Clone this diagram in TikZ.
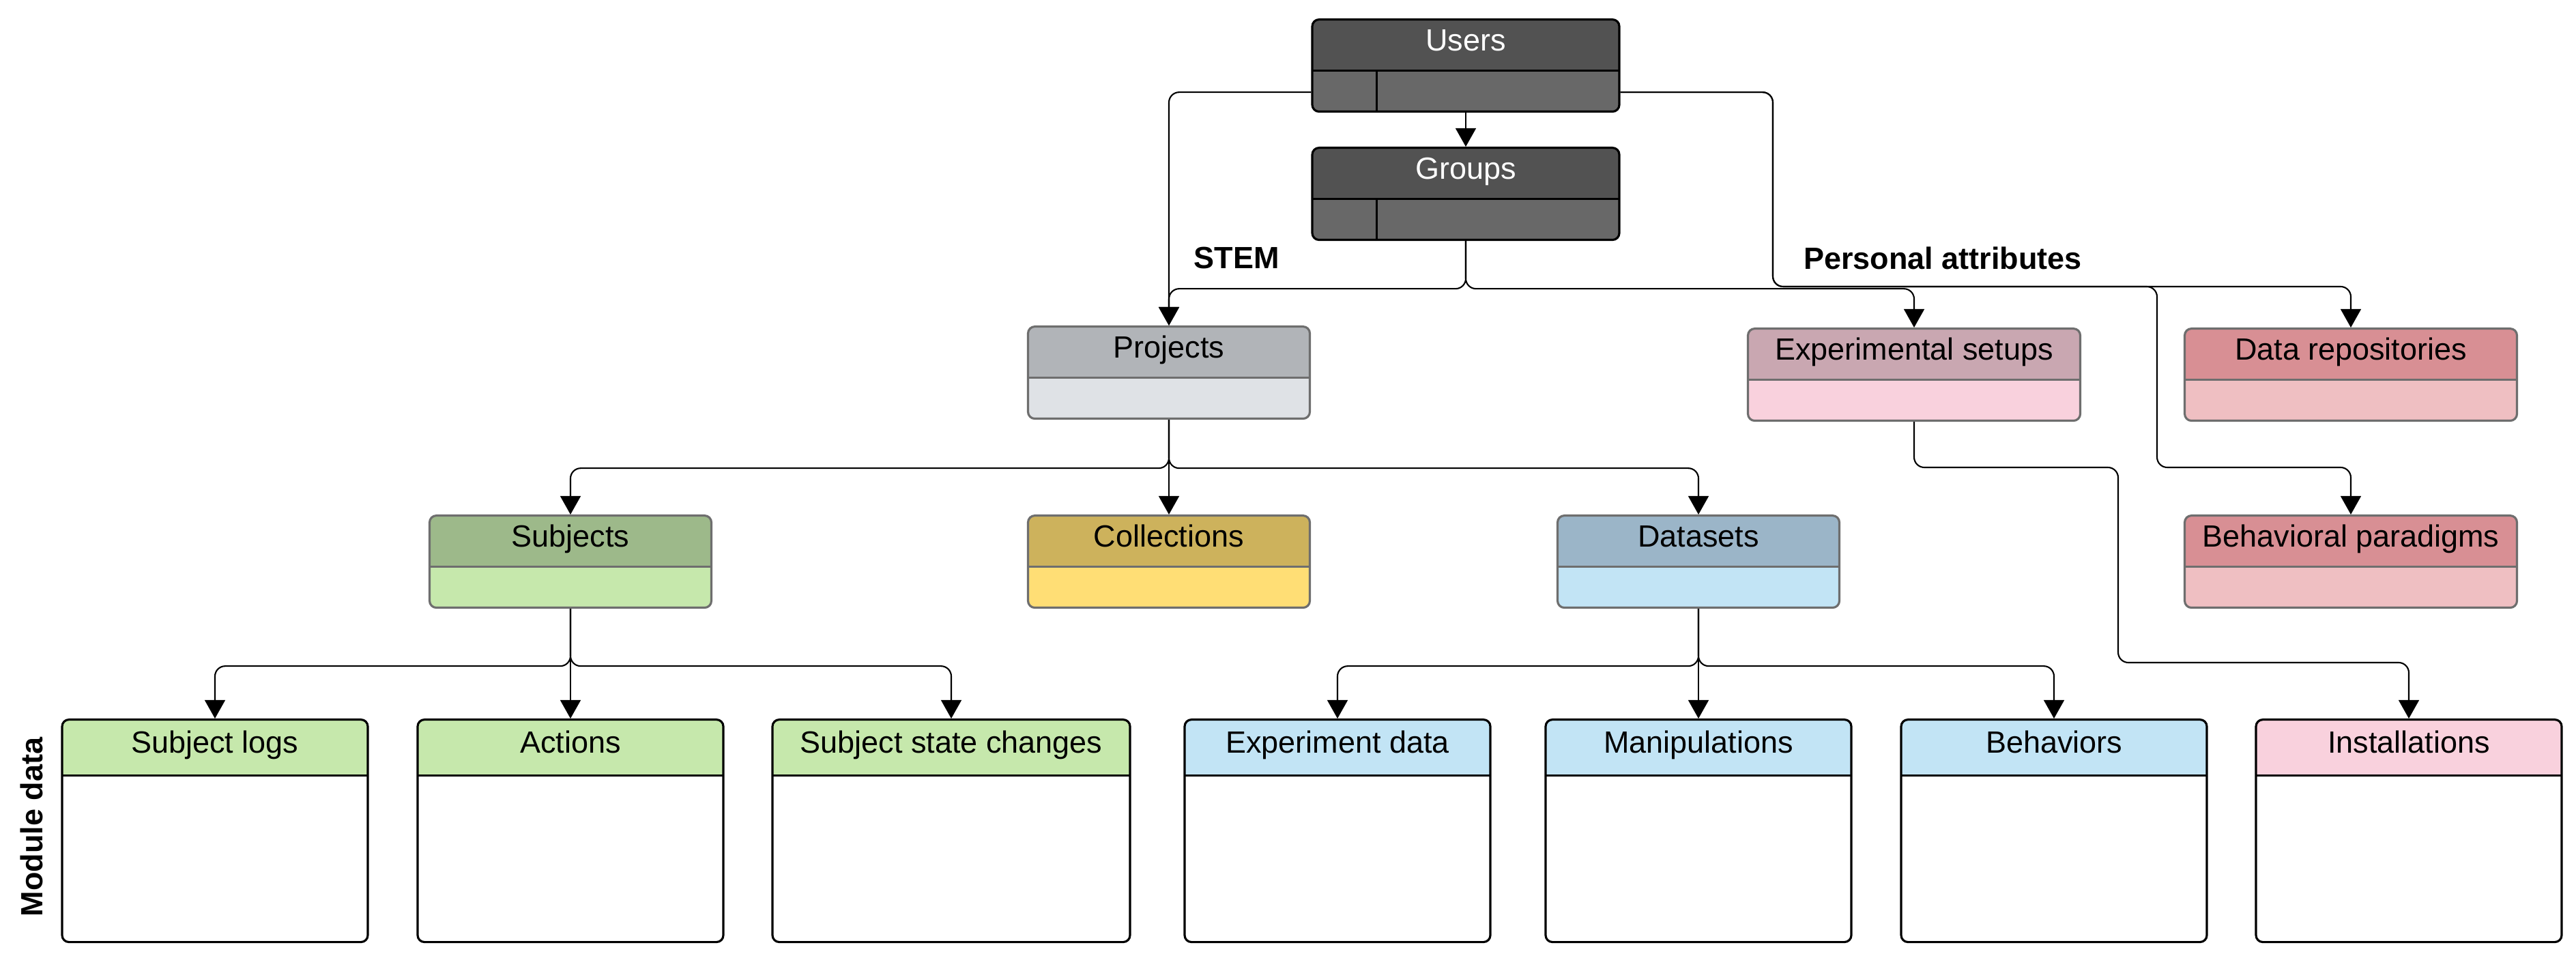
\documentclass[tikz,border=0pt]{standalone}
\usepackage{fontspec}
\setmainfont{Liberation Sans}
\usetikzlibrary{arrows.meta}

\definecolor{darkhead}{HTML}{525252}
\definecolor{darkbody}{HTML}{686868}
\definecolor{edgegray}{HTML}{6E6E6E}
\definecolor{projhead}{HTML}{B1B4B8}
\definecolor{projbody}{HTML}{DFE2E6}
\definecolor{subjhead}{HTML}{9DB98A}
\definecolor{subjbody}{HTML}{C6E8AC}
\definecolor{collhead}{HTML}{CDB25C}
\definecolor{collbody}{HTML}{FFDE75}
\definecolor{datahead}{HTML}{9BB5C8}
\definecolor{databody}{HTML}{C2E4F5}
\definecolor{setuphead}{HTML}{C9A7B1}
\definecolor{setupbody}{HTML}{F9D1DD}
\definecolor{repohead}{HTML}{D88F94}
\definecolor{repobody}{HTML}{EFBFC2}

\tikzset{
  ent/.style n args={4}{draw=#4, line width=0.9pt, rounded corners=1mm, inner sep=0pt, anchor=north, fill=#2,
    path picture={
      \fill[#1, sharp corners] (path picture bounding box.north west) rectangle ([yshift=-#3]path picture bounding box.north east);
      \draw[#4, sharp corners] ([yshift=-#3]path picture bounding box.north west) -- ([yshift=-#3]path picture bounding box.north east);}},
  mid/.style={minimum width=4.13cm, minimum height=1.35cm},
  wide/.style={minimum width=4.87cm, minimum height=1.35cm},
  module/.style={minimum width=4.48cm, minimum height=3.26cm},
  title/.style={anchor=north, inner sep=0pt, minimum height=#1, text height=9.2pt, text depth=4pt},
  title/.default=7.5mm,
  link/.style={line width=0.6pt, rounded corners=1.5mm, -{Triangle[width=8.5pt,length=7.7pt]}},
  tag/.style={font=\fontsize{12.8}{15}\selectfont\bfseries}
}

\begin{document}
\begin{tikzpicture}[font=\fontsize{12.8}{15}\selectfont]
\useasboundingbox (0,0) rectangle (37.75,-14.01);

% top: users and groups
\node[ent={darkhead}{darkbody}{7.5mm}{black}, minimum width=4.5cm, minimum height=1.35cm] (users) at (21.48,-0.27) {};
\node[title, text=white] (users-t) at (users.north) {Users};
\draw[line width=0.9pt] ([xshift=9.6mm]users.south west) -- ++(0,0.6);
\node[ent={darkhead}{darkbody}{7.5mm}{black}, minimum width=4.5cm, minimum height=1.35cm] (groups) at (21.48,-2.15) {};
\node[title, text=white] (groups-t) at (groups.north) {Groups};
\draw[line width=0.9pt] ([xshift=9.6mm]groups.south west) -- ++(0,0.6);

\node[tag] (stem) at (18.12,-3.78) {STEM};
\node[tag] (personal) at (28.47,-3.78) {Personal attributes};

% second level
\node[ent={projhead}{projbody}{7.5mm}{edgegray}, mid] (projects) at (17.13,-4.77) {};
\node[title] (projects-t) at (projects.north) {Projects};
\node[ent={setuphead}{setupbody}{7.5mm}{edgegray}, wide] (setups) at (28.05,-4.80) {};
\node[title] (setups-t) at (setups.north) {Experimental setups};
\node[ent={repohead}{repobody}{7.5mm}{edgegray}, wide] (repos) at (34.45,-4.80) {};
\node[title] (repos-t) at (repos.north) {Data repositories};

% third level
\node[ent={subjhead}{subjbody}{7.5mm}{edgegray}, mid] (subjects) at (8.36,-7.54) {};
\node[title] (subjects-t) at (subjects.north) {Subjects};
\node[ent={collhead}{collbody}{7.5mm}{edgegray}, mid] (collections) at (17.13,-7.54) {};
\node[title] (collections-t) at (collections.north) {Collections};
\node[ent={datahead}{databody}{7.5mm}{edgegray}, mid] (datasets) at (24.89,-7.54) {};
\node[title] (datasets-t) at (datasets.north) {Datasets};
\node[ent={repohead}{repobody}{7.5mm}{edgegray}, wide] (paradigms) at (34.45,-7.54) {};
\node[title] (paradigms-t) at (paradigms.north) {Behavioral paradigms};

% module data
\node[tag, rotate=90] (module) at (0.46,-12.12) {Module data};
\node[ent={subjbody}{white}{8.2mm}{black}, module] (sublogs) at (3.15,-10.53) {};
\node[title=8.2mm] (sublogs-t) at (sublogs.north) {Subject logs};
\node[ent={subjbody}{white}{8.2mm}{black}, module] (actions) at (8.36,-10.53) {};
\node[title=8.2mm] (actions-t) at (actions.north) {Actions};
\node[ent={subjbody}{white}{8.2mm}{black}, module, minimum width=5.24cm] (statechanges) at (13.94,-10.53) {};
\node[title=8.2mm] (statechanges-t) at (statechanges.north) {Subject state changes};
\node[ent={databody}{white}{8.2mm}{black}, module] (expdata) at (19.60,-10.53) {};
\node[title=8.2mm] (expdata-t) at (expdata.north) {Experiment data};
\node[ent={databody}{white}{8.2mm}{black}, module] (manipulations) at (24.89,-10.53) {};
\node[title=8.2mm] (manipulations-t) at (manipulations.north) {Manipulations};
\node[ent={databody}{white}{8.2mm}{black}, module] (behaviors) at (30.10,-10.53) {};
\node[title=8.2mm] (behaviors-t) at (behaviors.north) {Behaviors};
\node[ent={setupbody}{white}{8.2mm}{black}, module] (installations) at (35.30,-10.53) {};
\node[title=8.2mm] (installations-t) at (installations.north) {Installations};

\coordinate (pa) at (25.98,-4.20);
\coordinate (paradturn) at (31.61,-6.85);
\coordinate (instA) at (31.04,-6.85);
\coordinate (instB) at (31.04,-9.71);

\draw[link] (users.south) -- (groups.north);
\draw[link] ([yshift=3mm]users.south west) -| (projects.north);
\draw[link] (groups.south) -- ++(0,-0.7) -| (projects.north);
\draw[link] (groups.south) -- ++(0,-0.7) -| (setups.north);
\draw[link] ([yshift=3mm]users.south east) -| (pa) -| (repos.north);
\draw[link] ([yshift=3mm]users.south east) -| (pa) -| (paradturn) -| (paradigms.north);
\draw[link] (setups.south) |- (instA) -- (instB) -| (installations.north);

\draw[link] (projects.south) -- ++(0,-0.71) -| (subjects.north);
\draw[link] (projects.south) -- (collections.north);
\draw[link] (projects.south) -- ++(0,-0.71) -| (datasets.north);

\draw[link] (subjects.south) -- ++(0,-0.84) -| (sublogs.north);
\draw[link] (subjects.south) -- (actions.north);
\draw[link] (subjects.south) -- ++(0,-0.84) -| (statechanges.north);
\draw[link] (datasets.south) -- ++(0,-0.84) -| (expdata.north);
\draw[link] (datasets.south) -- (manipulations.north);
\draw[link] (datasets.south) -- ++(0,-0.84) -| (behaviors.north);
\end{tikzpicture}
\end{document}
